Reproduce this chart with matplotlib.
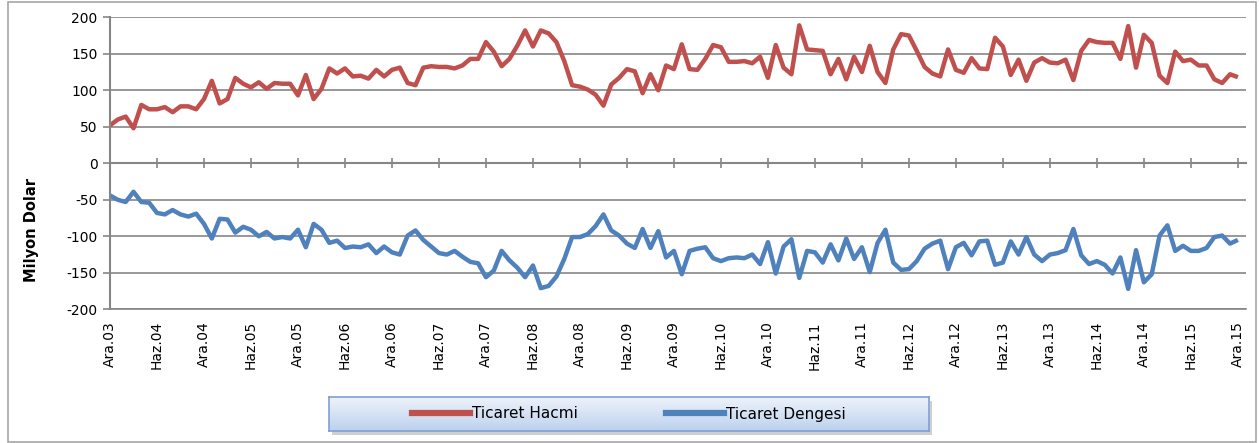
import matplotlib
matplotlib.use("Agg")
import matplotlib.pyplot as plt
import numpy as np
from matplotlib.patches import Rectangle
from matplotlib.lines import Line2D

# aylik veriler, Ara.03 - Ara.15 (milyon dolar)
ticaret_hacmi = [
    52, 60, 64, 48, 80, 74, 74, 77, 70, 78, 78, 74, 88, 113, 82, 88, 117, 109, 104, 111,
    102, 110, 109, 109, 93, 121, 88, 102, 130, 123, 130, 119, 120, 116, 128, 119, 128, 131, 110, 107,
    131, 133, 132, 132, 130, 134, 143, 143, 166, 153, 133, 143, 161, 182, 160, 182, 178, 166, 140, 107,
    105, 101, 94, 79, 108, 117, 129, 126, 96, 122, 100, 134, 129, 163, 129, 128, 143, 162, 159, 139,
    139, 140, 137, 146, 117, 162, 131, 122, 189, 156, 155, 154, 122, 143, 115, 146, 125, 161, 125, 110,
    156, 177, 175, 154, 132, 123, 119, 156, 128, 124, 144, 130, 129, 172, 160, 121, 142, 113, 138, 144,
    138, 137, 142, 114, 154, 169, 166, 165, 165, 143, 188, 131, 176, 165, 120, 110, 153, 140, 142, 134,
    134, 115, 110, 122, 118,
]
ticaret_dengesi = [
    -44, -50, -53, -39, -53, -54, -68, -70, -64, -70, -73, -69, -83, -103, -76, -77, -95, -87, -91, -100,
    -94, -103, -101, -103, -91, -115, -83, -91, -109, -106, -116, -114, -115, -111, -123, -114, -122, -125, -99, -92,
    -105, -114, -123, -125, -120, -128, -135, -137, -156, -147, -120, -133, -143, -156, -140, -171, -168, -155, -131, -101,
    -101, -97, -86, -70, -92, -99, -110, -116, -90, -116, -93, -129, -120, -152, -120, -117, -115, -130, -134, -130,
    -129, -130, -125, -138, -108, -151, -114, -104, -157, -120, -122, -136, -111, -133, -103, -131, -115, -149, -109, -91,
    -136, -146, -145, -134, -117, -110, -106, -145, -115, -109, -126, -107, -106, -139, -136, -107, -125, -101, -125, -134,
    -125, -123, -119, -90, -126, -138, -134, -139, -151, -129, -172, -119, -163, -152, -99, -85, -120, -113, -120, -120,
    -116, -101, -99, -110, -105,
]
etiketler = ["Ara.03", "Haz.04", "Ara.04", "Haz.05", "Ara.05", "Haz.06", "Ara.06", "Haz.07", "Ara.07",
             "Haz.08", "Ara.08", "Haz.09", "Ara.09", "Haz.10", "Ara.10", "Haz.11", "Ara.11", "Haz.12",
             "Ara.12", "Haz.13", "Ara.13", "Haz.14", "Ara.14", "Haz.15", "Ara.15"]
y_ticks = [-200, -150, -100, -50, 0, 50, 100, 150, 200]

KIRMIZI = "#C0504D"
MAVI = "#4F81BD"
GRI = "#868686"

W, H = 1259, 443
fig = plt.figure(figsize=(W / 100, H / 100), dpi=100)
plt.rcParams['font.family'] = ['DejaVu Sans']

ax = fig.add_axes([110 / W, 1 - 309.3 / H, (1245.7 - 110) / W, (309.3 - 17.3) / H])
x = np.arange(len(ticaret_hacmi))
ax.plot(x, ticaret_hacmi, color=KIRMIZI, lw=3.2, solid_joinstyle='round', solid_capstyle='butt')
ax.plot(x, ticaret_dengesi, color=MAVI, lw=3.2, solid_joinstyle='round', solid_capstyle='butt')

ax.set_xlim(0, 145)
ax.set_ylim(-200, 200)
ax.set_yticks(y_ticks)
ax.set_yticklabels([str(v) for v in y_ticks], fontsize=10)
ax.set_xticks(np.arange(0, 145, 6))
ax.set_xticklabels(etiketler, fontsize=12)
ax.yaxis.grid(True, color=GRI, lw=1.2)
ax.set_axisbelow(True)

ax.spines['right'].set_visible(False)
ax.spines['left'].set_color(GRI)
ax.spines['left'].set_linewidth(1.5)
ax.spines['bottom'].set_color(GRI)
ax.spines['bottom'].set_linewidth(1.2)
ax.spines['top'].set_position(('data', 0))
ax.spines['top'].set_color(GRI)
ax.spines['top'].set_linewidth(1.5)
ax.tick_params(axis='x', bottom=False, top=True, labelbottom=True, labeltop=False,
               direction='inout', length=7, width=1.2, color=GRI, pad=5, labelrotation=90)
ax.tick_params(axis='y', direction='out', length=5, width=1.2, color=GRI, pad=4)

fig.text(32 / W, 1 - 230 / H, "Milyon Dolar", rotation=90, fontsize=10.5, fontweight='bold',
         ha='center', va='center')

# dis cerceve
cerceve = Rectangle((8 / W, 1.5 / H), (1256 - 8) / W, (441 - 1.5) / H, transform=fig.transFigure,
                    fill=False, edgecolor="#a6a6a6", lw=1.2, zorder=-1)
fig.patches.append(cerceve)

# gosterge kutusu (golgeli, gradyanli)
lx0, lx1, ly0, ly1 = 329, 929, 397, 431
golge = Rectangle(((lx0 + 3) / W, 1 - (ly1 + 4) / H), (lx1 - lx0) / W, (ly1 - ly0) / H,
                  transform=fig.transFigure, facecolor="#cfcfcf", edgecolor='none', zorder=-1)
fig.patches.append(golge)
lax = fig.add_axes([lx0 / W, 1 - ly1 / H, (lx1 - lx0) / W, (ly1 - ly0) / H])
lax.set_zorder(5)
grad = np.linspace(0, 1, 64).reshape(-1, 1)
cmap = matplotlib.colors.LinearSegmentedColormap.from_list("g", ["#eef3fb", "#bcd1ee"])
lax.imshow(grad, aspect='auto', cmap=cmap, extent=[0, 1, 0, 1], origin='upper')
lax.set_xticks([])
lax.set_yticks([])
for s in lax.spines.values():
    s.set_color("#7f9fd3")
    s.set_linewidth(1.2)
handles = [Line2D([], [], color=KIRMIZI, lw=4.5), Line2D([], [], color=MAVI, lw=4.5)]
lax.legend(handles, ["Ticaret Hacmi", "Ticaret Dengesi"], loc='center', ncol=2, frameon=False,
           fontsize=11, handlelength=3.8, handletextpad=0.1, columnspacing=5.8)

fig.savefig("out.png", dpi=100)
